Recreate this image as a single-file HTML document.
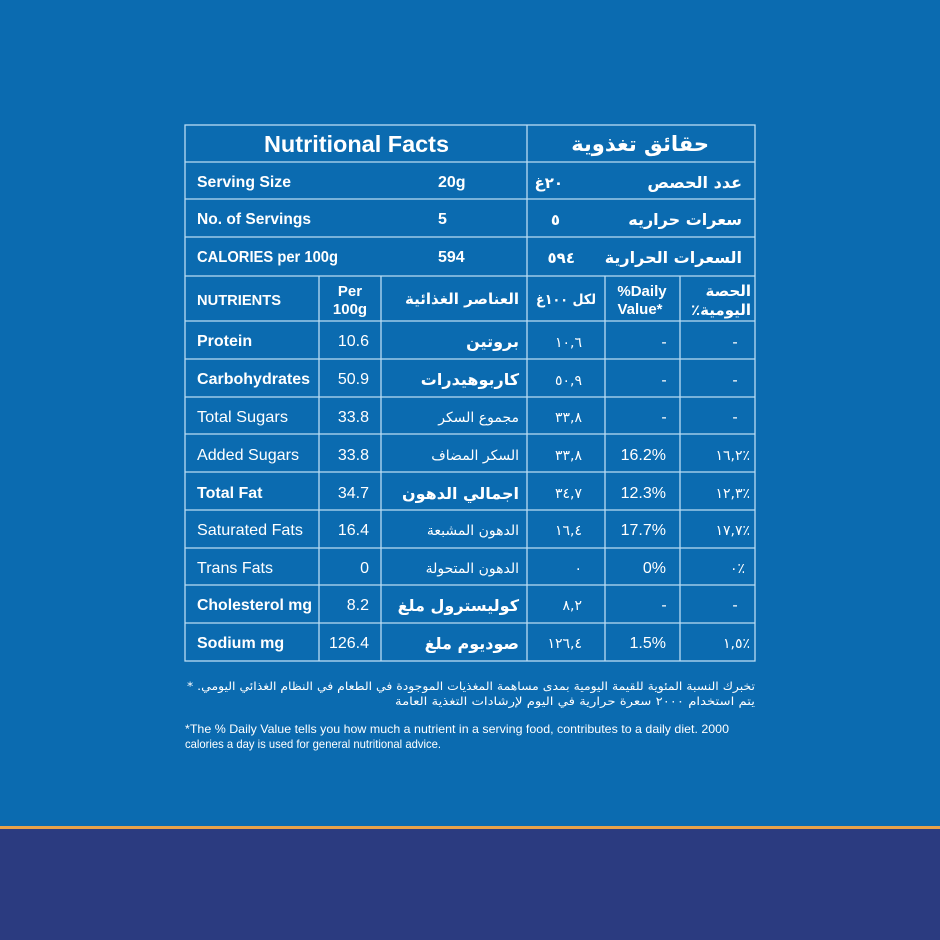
<!DOCTYPE html>
<html><head><meta charset="utf-8"><style>
html,body{margin:0;padding:0;width:940px;height:940px;overflow:hidden;background:#0b6bb0}
svg{display:block}
text{fill:#fff;font-family:"Liberation Sans","Noto Sans CJK SC",sans-serif}
.b{font-weight:bold}
.ar{font-family:"DejaVu Sans","Noto Sans CJK SC",sans-serif;direction:rtl}
</style></head><body>
<svg width="940" height="940" viewBox="0 0 940 940" xmlns="http://www.w3.org/2000/svg">
<rect width="940" height="940" fill="#0b6bb0"/>
<rect y="826" width="940" height="3" fill="#e8a24a"/>
<rect y="829" width="940" height="111" fill="#2b3b80"/>
<g stroke="#b9dcf3" stroke-width="1.3" fill="none">
<rect x="185" y="125" width="570" height="536"/>
<line x1="185" y1="162" x2="755" y2="162"/>
<line x1="185" y1="199" x2="755" y2="199"/>
<line x1="185" y1="237" x2="755" y2="237"/>
<line x1="185" y1="276" x2="755" y2="276"/>
<line x1="185" y1="321" x2="755" y2="321"/>
<line x1="185" y1="359" x2="755" y2="359"/>
<line x1="185" y1="397" x2="755" y2="397"/>
<line x1="185" y1="434" x2="755" y2="434"/>
<line x1="185" y1="472" x2="755" y2="472"/>
<line x1="185" y1="510" x2="755" y2="510"/>
<line x1="185" y1="548" x2="755" y2="548"/>
<line x1="185" y1="585" x2="755" y2="585"/>
<line x1="185" y1="623" x2="755" y2="623"/>
<line x1="527" y1="125" x2="527" y2="661"/>
<line x1="319" y1="276" x2="319" y2="661"/>
<line x1="381" y1="276" x2="381" y2="661"/>
<line x1="605" y1="276" x2="605" y2="661"/>
<line x1="680" y1="276" x2="680" y2="661"/>
</g>
<text x="264" y="152" class="b" font-size="23" textLength="185" lengthAdjust="spacingAndGlyphs">Nutritional Facts</text>
<text x="709" y="151" class="b ar" font-size="21" text-anchor="start">حقائق تغذوية</text>
<text x="197" y="187" class="b" font-size="16" textLength="94" lengthAdjust="spacingAndGlyphs">Serving Size</text>
<text x="438" y="187" class="b" font-size="16">20g</text>
<text x="742" y="188" class="b ar" font-size="16" text-anchor="start">عدد الحصص</text>
<text x="563" y="188" class="b ar" font-size="15" text-anchor="start">٢٠غ</text>
<text x="197" y="224" class="b" font-size="16" textLength="114" lengthAdjust="spacingAndGlyphs">No. of Servings</text>
<text x="438" y="224" class="b" font-size="16">5</text>
<text x="742" y="225" class="b ar" font-size="16" text-anchor="start">سعرات حراريه</text>
<text x="560" y="225" class="b ar" font-size="15" text-anchor="start">٥</text>
<text x="197" y="262" class="b" font-size="16" textLength="141" lengthAdjust="spacingAndGlyphs">CALORIES per 100g</text>
<text x="438" y="262" class="b" font-size="16">594</text>
<text x="742" y="263" class="b ar" font-size="16" text-anchor="start">السعرات الحرارية</text>
<text x="575" y="263" class="b ar" font-size="15" text-anchor="start">٥٩٤</text>
<text x="197" y="305" class="b" font-size="15" textLength="84" lengthAdjust="spacingAndGlyphs">NUTRIENTS</text>
<text x="350" y="296" class="b" font-size="15" text-anchor="middle">Per</text>
<text x="350" y="314" class="b" font-size="15" text-anchor="middle">100g</text>
<text x="519" y="304" class="b ar" font-size="15" text-anchor="start">العناصر الغذائية</text>
<text x="596" y="304" class="b ar" font-size="14" text-anchor="start" textLength="60" lengthAdjust="spacingAndGlyphs">لكل ١٠٠غ</text>
<text x="642" y="296" class="b" font-size="15" text-anchor="middle">%Daily</text>
<text x="640" y="314" class="b" font-size="15" text-anchor="middle">Value*</text>
<text x="751" y="296" class="b ar" font-size="15" text-anchor="start">الحصة</text>
<text x="751" y="315" class="b ar" font-size="15" text-anchor="start">اليومية٪</text>
<g font-size="16">
<text x="197" y="346" class="b">Protein</text><text x="369" y="346" text-anchor="end">10.6</text>
<text x="519" y="347" class="b ar" text-anchor="start">بروتين</text><text x="582" y="347" class="ar" font-size="14" text-anchor="start">١٠,٦</text>
<text x="664" y="347" text-anchor="middle">-</text><text x="735" y="347" text-anchor="middle">-</text>

<text x="197" y="384" class="b" textLength="113" lengthAdjust="spacingAndGlyphs">Carbohydrates</text><text x="369" y="384" text-anchor="end">50.9</text>
<text x="519" y="385" class="b ar" text-anchor="start">كاربوهيدرات</text><text x="582" y="385" class="ar" font-size="14" text-anchor="start">٥٠,٩</text>
<text x="664" y="385" text-anchor="middle">-</text><text x="735" y="385" text-anchor="middle">-</text>

<text x="197" y="422" textLength="91" lengthAdjust="spacingAndGlyphs">Total Sugars</text><text x="369" y="422" text-anchor="end">33.8</text>
<text x="519" y="422" class="ar" font-size="14" text-anchor="start">مجموع السكر</text><text x="582" y="422" class="ar" font-size="14" text-anchor="start">٣٣,٨</text>
<text x="664" y="422" text-anchor="middle">-</text><text x="735" y="422" text-anchor="middle">-</text>

<text x="197" y="460" textLength="102" lengthAdjust="spacingAndGlyphs">Added Sugars</text><text x="369" y="460" text-anchor="end">33.8</text>
<text x="519" y="460" class="ar" font-size="14" text-anchor="start">السكر المضاف</text><text x="582" y="460" class="ar" font-size="14" text-anchor="start">٣٣,٨</text>
<text x="666" y="460" text-anchor="end">16.2%</text><text x="750" y="460" class="ar" font-size="14" text-anchor="start">٪١٦,٢</text>

<text x="197" y="498" class="b">Total Fat</text><text x="369" y="498" text-anchor="end">34.7</text>
<text x="519" y="499" class="b ar" text-anchor="start">اجمالي الدهون</text><text x="582" y="498" class="ar" font-size="14" text-anchor="start">٣٤,٧</text>
<text x="666" y="498" text-anchor="end">12.3%</text><text x="750" y="498" class="ar" font-size="14" text-anchor="start">٪١٢,٣</text>

<text x="197" y="535" textLength="106" lengthAdjust="spacingAndGlyphs">Saturated Fats</text><text x="369" y="535" text-anchor="end">16.4</text>
<text x="519" y="535" class="ar" font-size="14" text-anchor="start">الدهون المشبعة</text><text x="582" y="535" class="ar" font-size="14" text-anchor="start">١٦,٤</text>
<text x="666" y="535" text-anchor="end">17.7%</text><text x="750" y="535" class="ar" font-size="14" text-anchor="start">٪١٧,٧</text>

<text x="197" y="573" textLength="76" lengthAdjust="spacingAndGlyphs">Trans Fats</text><text x="369" y="573" text-anchor="end">0</text>
<text x="519" y="573" class="ar" font-size="14" text-anchor="start">الدهون المتحولة</text><text x="582" y="573" class="ar" font-size="14" text-anchor="start">٠</text>
<text x="666" y="573" text-anchor="end">0%</text><text x="745" y="573" class="ar" font-size="14" text-anchor="start">٪٠</text>

<text x="197" y="610" class="b" textLength="115" lengthAdjust="spacingAndGlyphs">Cholesterol mg</text><text x="369" y="610" text-anchor="end">8.2</text>
<text x="519" y="611" class="b ar" text-anchor="start">كوليسترول ملغ</text><text x="582" y="610" class="ar" font-size="14" text-anchor="start">٨,٢</text>
<text x="664" y="610" text-anchor="middle">-</text><text x="735" y="610" text-anchor="middle">-</text>

<text x="197" y="648" class="b">Sodium mg</text><text x="369" y="648" text-anchor="end">126.4</text>
<text x="519" y="649" class="b ar" text-anchor="start">صوديوم ملغ</text><text x="582" y="648" class="ar" font-size="14" text-anchor="start">١٢٦,٤</text>
<text x="666" y="648" text-anchor="end">1.5%</text><text x="750" y="648" class="ar" font-size="14" text-anchor="start">٪١,٥</text>
</g>
<text x="755" y="690" class="ar" font-size="11.5" text-anchor="start" textLength="568" lengthAdjust="spacingAndGlyphs">تخبرك النسبة المئوية للقيمة اليومية بمدى مساهمة المغذيات الموجودة في الطعام في النظام الغذائي اليومي. *</text>
<text x="755" y="705" class="ar" font-size="11.5" text-anchor="start" textLength="360" lengthAdjust="spacingAndGlyphs">يتم استخدام ٢٠٠٠ سعرة حرارية في اليوم لإرشادات التغذية العامة</text>
<text x="185" y="733" font-size="12" textLength="544" lengthAdjust="spacingAndGlyphs">*The % Daily Value tells you how much a nutrient in a serving food, contributes to a daily diet. 2000</text>
<text x="185" y="748" font-size="12" textLength="256" lengthAdjust="spacingAndGlyphs">calories a day is used for general nutritional advice.</text>
</svg>
</body></html>
